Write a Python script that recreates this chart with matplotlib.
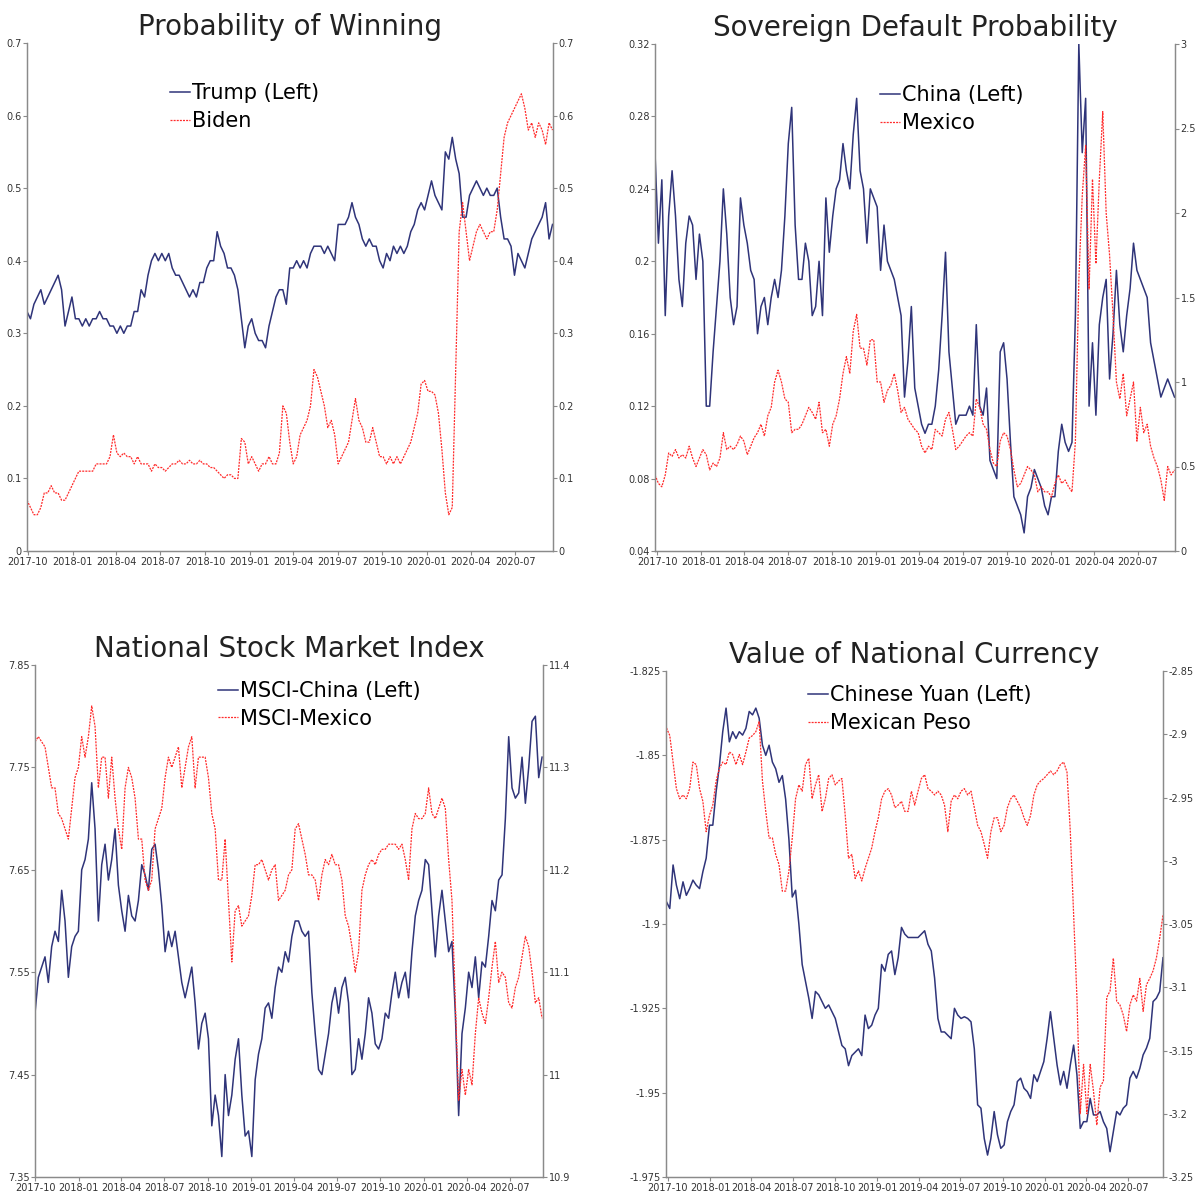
import matplotlib
matplotlib.use('Agg')
import matplotlib.pyplot as plt
import matplotlib.dates as mdates
import matplotlib.ticker as mticker
import pandas as pd

plt.rcParams['font.family'] = ['DejaVu Sans']
plt.rcParams['axes.unicode_minus'] = False

# ---------------- data (~weekly samples) ----------------
trump = [0.33,0.32,0.34,0.35,0.36,0.34,0.35,0.36,0.37,0.38,
         0.36,0.31,0.33,0.35,0.32,0.32,0.31,0.32,0.31,0.32,
         0.32,0.33,0.32,0.32,0.31,0.31,0.30,0.31,0.30,0.31,
         0.31,0.33,0.33,0.36,0.35,0.38,0.40,0.41,0.40,0.41,
         0.40,0.41,0.39,0.38,0.38,0.37,0.36,0.35,0.36,0.35,
         0.37,0.37,0.39,0.40,0.40,0.44,0.42,0.41,0.39,0.39,
         0.38,0.36,0.32,0.28,0.31,0.32,0.30,0.29,0.29,0.28,
         0.31,0.33,0.35,0.36,0.36,0.34,0.39,0.39,0.40,0.39,
         0.40,0.39,0.41,0.42,0.42,0.42,0.41,0.42,0.41,0.40,
         0.45,0.45,0.45,0.46,0.48,0.46,0.45,0.43,0.42,0.43,
         0.42,0.42,0.40,0.39,0.41,0.40,0.42,0.41,0.42,0.41,
         0.42,0.44,0.45,0.47,0.48,0.47,0.49,0.51,0.49,0.48,
         0.47,0.55,0.54,0.57,0.54,0.52,0.46,0.46,0.49,0.50,
         0.51,0.50,0.49,0.50,0.49,0.49,0.50,0.46,0.43,0.43,
         0.42,0.38,0.41,0.40,0.39,0.41,0.43,0.44,0.45,0.46,
         0.48,0.43,0.45]
biden = [0.07,0.06,0.05,0.05,0.06,0.08,0.08,0.09,0.08,0.08,
         0.07,0.07,0.08,0.09,0.10,0.11,0.11,0.11,0.11,0.11,
         0.12,0.12,0.12,0.12,0.13,0.16,0.135,0.13,0.135,0.13,
         0.13,0.12,0.13,0.12,0.12,0.12,0.11,0.12,0.115,0.115,
         0.11,0.115,0.12,0.12,0.125,0.12,0.12,0.125,0.12,0.12,
         0.125,0.12,0.12,0.115,0.115,0.11,0.105,0.10,0.105,0.105,
         0.10,0.10,0.155,0.15,0.12,0.13,0.12,0.11,0.12,0.12,
         0.13,0.12,0.12,0.135,0.20,0.19,0.15,0.12,0.13,0.16,
         0.17,0.18,0.20,0.25,0.24,0.22,0.20,0.17,0.18,0.16,
         0.12,0.13,0.14,0.15,0.18,0.21,0.18,0.17,0.15,0.15,
         0.17,0.15,0.13,0.13,0.12,0.13,0.12,0.13,0.12,0.13,
         0.14,0.15,0.17,0.19,0.23,0.235,0.22,0.22,0.215,0.19,
         0.14,0.08,0.05,0.06,0.25,0.44,0.48,0.44,0.40,0.42,
         0.44,0.45,0.44,0.43,0.44,0.44,0.47,0.52,0.57,0.59,
         0.60,0.61,0.62,0.63,0.61,0.58,0.59,0.57,0.59,0.58,
         0.56,0.59,0.58]

china_cds = [0.26,0.21,0.245,0.17,0.225,0.25,0.225,0.19,0.175,0.21,
             0.225,0.22,0.19,0.215,0.20,0.12,0.12,0.15,0.175,0.20,
             0.24,0.215,0.18,0.165,0.175,0.235,0.22,0.21,0.195,0.19,
             0.16,0.175,0.18,0.165,0.18,0.19,0.18,0.195,0.225,0.265,
             0.285,0.22,0.19,0.19,0.21,0.20,0.17,0.175,0.20,0.17,
             0.235,0.205,0.225,0.24,0.245,0.265,0.25,0.24,0.27,0.29,
             0.25,0.24,0.21,0.24,0.235,0.23,0.195,0.22,0.20,0.195,
             0.19,0.18,0.17,0.125,0.145,0.175,0.13,0.12,0.11,0.105,
             0.11,0.11,0.12,0.14,0.17,0.205,0.15,0.13,0.11,0.115,
             0.115,0.115,0.12,0.115,0.165,0.12,0.115,0.13,0.09,0.085,
             0.08,0.15,0.155,0.135,0.10,0.07,0.065,0.06,0.05,0.07,
             0.075,0.085,0.08,0.075,0.065,0.06,0.07,0.07,0.095,0.11,
             0.10,0.095,0.10,0.17,0.32,0.26,0.29,0.12,0.155,0.115,
             0.165,0.18,0.19,0.135,0.16,0.195,0.165,0.15,0.17,0.185,
             0.21,0.195,0.19,0.185,0.18,0.155,0.145,0.135,0.125,0.13,
             0.135,0.13,0.125]
mexico_cds = [0.45,0.40,0.38,0.45,0.58,0.56,0.60,0.55,0.57,0.55,
              0.62,0.55,0.50,0.55,0.60,0.57,0.48,0.52,0.50,0.55,
              0.70,0.60,0.62,0.60,0.63,0.68,0.65,0.57,0.62,0.67,
              0.70,0.75,0.68,0.80,0.85,1.00,1.07,1.00,0.90,0.88,
              0.70,0.72,0.72,0.75,0.80,0.85,0.82,0.78,0.88,0.70,
              0.72,0.62,0.75,0.80,0.90,1.05,1.15,1.05,1.30,1.40,
              1.20,1.20,1.10,1.25,1.25,1.00,1.00,0.88,0.95,0.98,
              1.05,0.95,0.82,0.85,0.78,0.75,0.72,0.70,0.62,0.58,
              0.62,0.60,0.72,0.70,0.68,0.78,0.82,0.72,0.60,0.62,
              0.65,0.68,0.70,0.68,0.90,0.85,0.75,0.72,0.60,0.52,
              0.50,0.65,0.70,0.68,0.60,0.48,0.38,0.40,0.45,0.50,
              0.48,0.45,0.35,0.38,0.35,0.35,0.32,0.40,0.45,0.40,
              0.42,0.38,0.35,0.65,1.60,2.10,2.40,1.55,2.20,1.70,
              2.20,2.60,2.00,1.75,1.40,1.00,0.90,1.05,0.80,0.90,
              1.00,0.65,0.85,0.70,0.75,0.62,0.55,0.50,0.42,0.30,
              0.50,0.45,0.48]

msci_china = [7.51,7.545,7.555,7.565,7.54,7.575,7.59,7.58,7.63,7.60,
              7.545,7.575,7.585,7.59,7.65,7.66,7.68,7.735,7.69,7.60,
              7.655,7.675,7.64,7.66,7.69,7.635,7.61,7.59,7.625,7.605,
              7.60,7.62,7.655,7.645,7.63,7.67,7.675,7.65,7.615,7.57,
              7.59,7.575,7.59,7.565,7.54,7.525,7.54,7.555,7.52,7.475,
              7.50,7.51,7.485,7.40,7.43,7.41,7.37,7.45,7.41,7.43,
              7.465,7.485,7.43,7.39,7.395,7.37,7.445,7.47,7.485,7.515,
              7.52,7.505,7.535,7.555,7.55,7.57,7.56,7.585,7.60,7.60,
              7.59,7.585,7.59,7.53,7.49,7.455,7.45,7.47,7.49,7.52,
              7.535,7.51,7.535,7.545,7.52,7.45,7.455,7.485,7.465,7.49,
              7.525,7.51,7.48,7.475,7.485,7.51,7.505,7.53,7.55,7.525,
              7.54,7.55,7.525,7.57,7.605,7.62,7.63,7.66,7.655,7.61,
              7.565,7.605,7.63,7.60,7.57,7.58,7.51,7.41,7.49,7.515,
              7.55,7.535,7.565,7.525,7.56,7.555,7.585,7.62,7.61,7.64,
              7.645,7.70,7.78,7.73,7.72,7.725,7.76,7.715,7.75,7.795,
              7.80,7.74,7.76]
msci_mexico = [11.325,11.33,11.325,11.32,11.30,11.28,11.28,11.255,11.25,11.24,
               11.23,11.26,11.29,11.30,11.33,11.31,11.33,11.36,11.34,11.28,
               11.31,11.31,11.27,11.31,11.27,11.24,11.22,11.28,11.30,11.29,
               11.27,11.23,11.23,11.19,11.18,11.19,11.24,11.25,11.26,11.29,
               11.31,11.30,11.31,11.32,11.28,11.30,11.32,11.33,11.28,11.31,
               11.31,11.31,11.29,11.255,11.24,11.19,11.19,11.23,11.17,11.11,
               11.16,11.165,11.145,11.15,11.155,11.175,11.205,11.205,11.21,11.20,
               11.19,11.20,11.205,11.17,11.175,11.18,11.195,11.20,11.24,11.245,
               11.23,11.215,11.195,11.195,11.19,11.17,11.195,11.21,11.205,11.215,
               11.205,11.205,11.19,11.155,11.145,11.125,11.10,11.12,11.18,11.195,
               11.205,11.21,11.205,11.215,11.22,11.22,11.225,11.225,11.225,11.22,
               11.225,11.21,11.19,11.24,11.255,11.25,11.25,11.255,11.28,11.255,
               11.25,11.26,11.27,11.26,11.21,11.17,11.07,10.975,11.005,10.98,
               11.005,10.99,11.04,11.075,11.06,11.05,11.075,11.105,11.13,11.09,
               11.10,11.095,11.07,11.065,11.085,11.095,11.115,11.135,11.125,11.10,
               11.07,11.075,11.055]

yuan = [-1.8934,-1.8954,-1.8825,-1.8885,-1.8925,-1.8875,-1.8915,-1.8895,-1.887,-1.8885,
        -1.8895,-1.8845,-1.8805,-1.8707,-1.8707,-1.8608,-1.853,-1.843,-1.836,-1.846,
        -1.843,-1.845,-1.843,-1.844,-1.842,-1.837,-1.838,-1.836,-1.839,-1.847,
        -1.85,-1.847,-1.852,-1.854,-1.858,-1.856,-1.863,-1.875,-1.892,-1.890,
        -1.900,-1.912,-1.917,-1.922,-1.928,-1.920,-1.921,-1.923,-1.925,-1.924,
        -1.926,-1.928,-1.932,-1.936,-1.937,-1.942,-1.939,-1.938,-1.937,-1.939,
        -1.927,-1.931,-1.930,-1.927,-1.925,-1.912,-1.914,-1.909,-1.908,-1.915,
        -1.910,-1.901,-1.903,-1.904,-1.904,-1.904,-1.904,-1.903,-1.902,-1.906,
        -1.908,-1.916,-1.928,-1.932,-1.932,-1.933,-1.934,-1.925,-1.927,-1.928,
        -1.9275,-1.928,-1.929,-1.937,-1.9536,-1.9546,-1.9636,-1.9685,-1.9636,-1.9556,
        -1.9625,-1.9665,-1.9655,-1.9586,-1.9556,-1.9536,-1.9467,-1.9457,-1.9487,-1.9497,
        -1.9517,-1.9447,-1.9467,-1.9437,-1.9408,-1.9339,-1.926,-1.9339,-1.9418,-1.9477,
        -1.9437,-1.9487,-1.9418,-1.9359,-1.9447,-1.9606,-1.9586,-1.9586,-1.9517,-1.9566,
        -1.9566,-1.9556,-1.9586,-1.9606,-1.9675,-1.9615,-1.9556,-1.9566,-1.9546,-1.9536,
        -1.9457,-1.9437,-1.9457,-1.9428,-1.9388,-1.9368,-1.9339,-1.923,-1.922,-1.920,
        -1.910]
peso = [-2.895,-2.901,-2.922,-2.943,-2.951,-2.948,-2.951,-2.943,-2.922,-2.924,
        -2.943,-2.953,-2.977,-2.964,-2.956,-2.937,-2.927,-2.922,-2.924,-2.914,
        -2.916,-2.924,-2.916,-2.924,-2.914,-2.903,-2.901,-2.898,-2.89,-2.937,
        -2.961,-2.982,-2.982,-2.995,-3.003,-3.024,-3.024,-3.008,-2.982,-2.951,
        -2.94,-2.945,-2.924,-2.919,-2.951,-2.94,-2.932,-2.961,-2.951,-2.935,
        -2.932,-2.94,-2.937,-2.935,-2.964,-2.998,-2.995,-3.014,-3.008,-3.016,
        -3.006,-2.998,-2.99,-2.977,-2.966,-2.951,-2.945,-2.943,-2.948,-2.958,
        -2.956,-2.953,-2.961,-2.961,-2.945,-2.956,-2.945,-2.935,-2.932,-2.943,
        -2.945,-2.948,-2.945,-2.948,-2.956,-2.977,-2.953,-2.948,-2.951,-2.945,
        -2.943,-2.948,-2.945,-2.958,-2.972,-2.977,-2.987,-2.998,-2.977,-2.966,
        -2.966,-2.977,-2.972,-2.958,-2.951,-2.948,-2.953,-2.958,-2.966,-2.972,
        -2.964,-2.948,-2.94,-2.937,-2.935,-2.932,-2.929,-2.932,-2.929,-2.924,
        -2.922,-2.93,-2.977,-3.043,-3.108,-3.2,-3.161,-3.2,-3.161,-3.182,
        -3.209,-3.179,-3.174,-3.108,-3.103,-3.077,-3.111,-3.114,-3.122,-3.135,
        -3.114,-3.106,-3.111,-3.093,-3.119,-3.098,-3.093,-3.087,-3.077,-3.061,
        -3.043]

ticks_p1_left = [0, 0.1, 0.2, 0.3, 0.4, 0.5, 0.6, 0.7]
ticks_p1_right = [0, 0.1, 0.2, 0.3, 0.4, 0.5, 0.6, 0.7]
ticks_p2_left = [0.04, 0.08, 0.12, 0.16, 0.2, 0.24, 0.28, 0.32]
ticks_p2_right = [0, 0.5, 1, 1.5, 2, 2.5, 3]
ticks_p3_left = [7.35, 7.45, 7.55, 7.65, 7.75, 7.85]
ticks_p3_right = [10.9, 11, 11.1, 11.2, 11.3, 11.4]
ticks_p4_left = [-1.975, -1.95, -1.925, -1.9, -1.875, -1.85, -1.825]
ticks_p4_right = [-3.25, -3.2, -3.15, -3.1, -3.05, -3, -2.95, -2.9, -2.85]

# ---------------- styling ----------------
NAVY = '#2f3479'
RED = '#ff2b2b'
SPINE = '#8a8a8a'
TXT = '#333333'

W, H = 1203, 1192
fig = plt.figure(figsize=(W / 100, H / 100), dpi=100)


def rect(l, r, t, b):
    return [l / W, 1 - b / H, (r - l) / W, (b - t) / H]


fmt = mticker.FuncFormatter(lambda v, p: f"{v:g}")


def panel(box, title, xlim, span, lv, rv, lt, rt, llab, rlab, anchor):
    ax = fig.add_axes(box)
    ax2 = ax.twinx()
    ld = pd.date_range(span[0], span[1], periods=len(lv))
    rd = pd.date_range(span[0], span[1], periods=len(rv))
    h1, = ax.plot(ld, lv, color=NAVY, lw=1.1, label=llab)
    h2, = ax2.plot(rd, rv, color=RED, lw=0.9, ls=(0, (1.6, 0.9)), label=rlab)
    ax.set_xlim(pd.Timestamp(xlim[0]), pd.Timestamp(xlim[1]))
    ax.set_ylim(lt[0], lt[-1])
    ax2.set_ylim(rt[0], rt[-1])
    ax.set_yticks(lt)
    ax2.set_yticks(rt)
    ax.yaxis.set_major_formatter(fmt)
    ax2.yaxis.set_major_formatter(fmt)
    ax.xaxis.set_major_locator(mdates.MonthLocator(bymonth=[1, 4, 7, 10]))
    ax.xaxis.set_major_formatter(mdates.DateFormatter('%Y-%m'))
    for a in (ax, ax2):
        a.spines['top'].set_visible(False)
        for s in ('left', 'right', 'bottom'):
            a.spines[s].set_color(SPINE)
            a.spines[s].set_linewidth(0.9)
        a.tick_params(direction='out', length=3, width=0.8, color=SPINE,
                      labelsize=7, labelcolor=TXT, pad=1)
    ax.set_title(title, fontsize=20, color='#222222', pad=6)
    ax2.legend([h1, h2], [llab, rlab], loc='upper left', bbox_to_anchor=anchor,
               frameon=False, fontsize=15, handlelength=0.95, handletextpad=0.12,
               labelspacing=0.38, borderpad=0, borderaxespad=0)
    return ax, ax2


panel(rect(27, 553, 43, 551), 'Probability of Winning',
      ('2017-09-29', '2020-09-17'), ('2017-09-29', '2020-09-16'),
      trump, biden, ticks_p1_left, ticks_p1_right, 'Trump (Left)', 'Biden', (0.272, 0.921))
panel(rect(655, 1175, 44, 551), 'Sovereign Default Probability',
      ('2017-09-26', '2020-09-17'), ('2017-09-26', '2020-09-16'),
      china_cds, mexico_cds, ticks_p2_left, ticks_p2_right, 'China (Left)', 'Mexico', (0.433, 0.919))
panel(rect(35, 543, 665, 1177), 'National Stock Market Index',
      ('2017-10-01', '2020-09-09'), ('2017-10-01', '2020-09-07'),
      msci_china, msci_mexico, ticks_p3_left, ticks_p3_right, 'MSCI-China (Left)', 'MSCI-Mexico', (0.36, 0.969))
panel(rect(666, 1163, 671, 1177), 'Value of National Currency',
      ('2017-09-27', '2020-09-15'), ('2017-09-28', '2020-09-15'),
      yuan, peso, ticks_p4_left, ticks_p4_right, 'Chinese Yuan (Left)', 'Mexican Peso', (0.286, 0.972))

fig.savefig('out.png', dpi=100, facecolor='white')
